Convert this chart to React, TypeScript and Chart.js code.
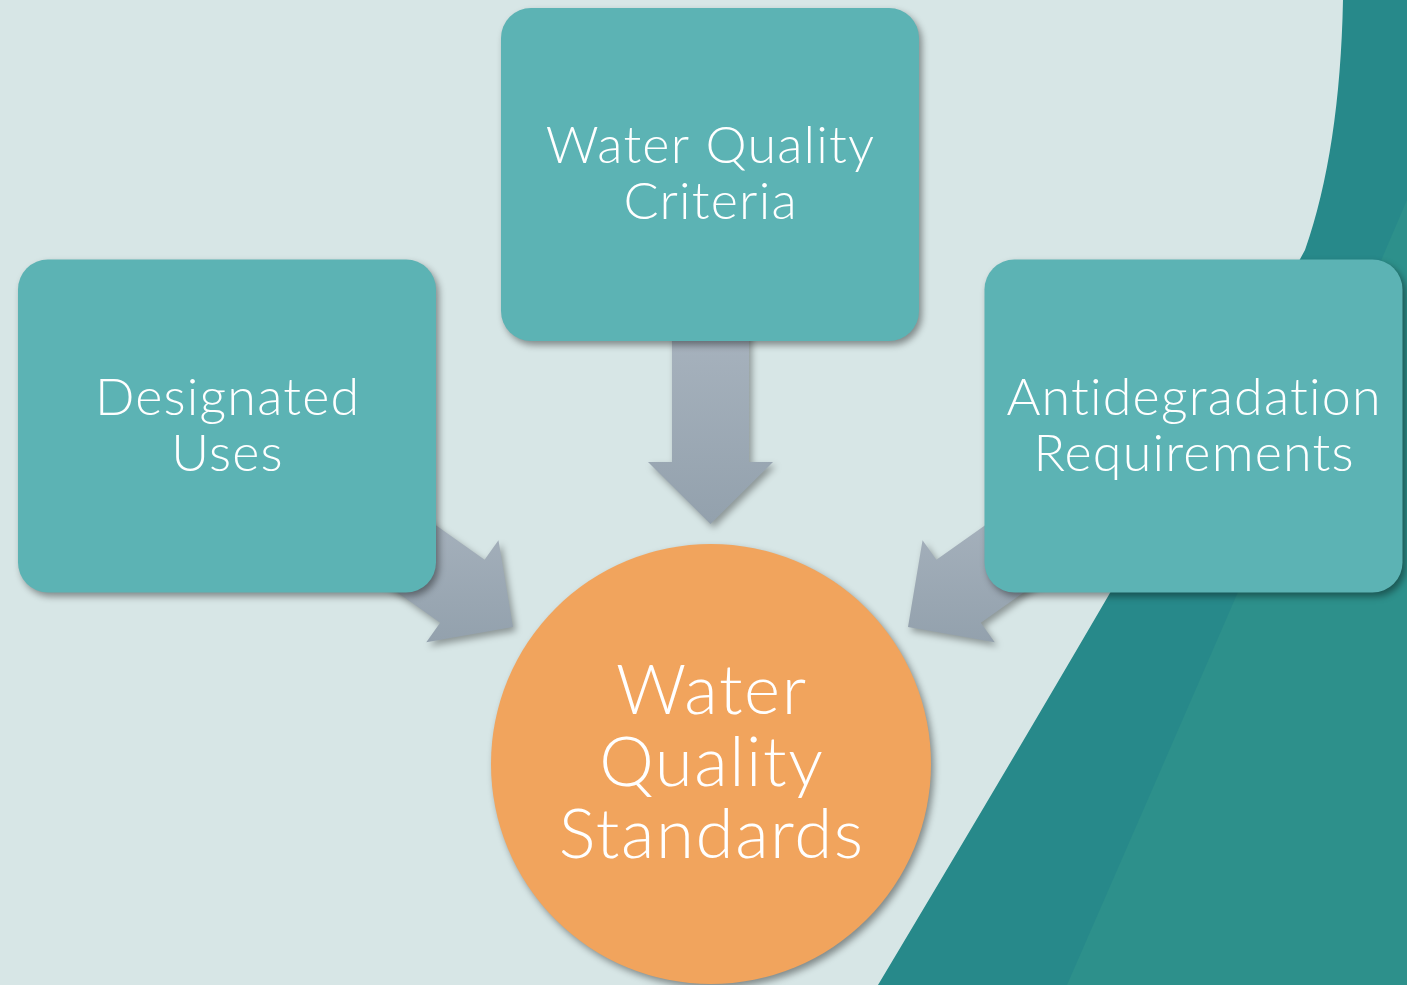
import React, { useEffect, useRef } from "react";
import { Chart, registerables } from "chart.js";

Chart.register(...registerables);

// ---- data ----
const nodeLabels: string[][] = [
  ["Designated", "Uses"],
  ["Water Quality", "Criteria"],
  ["Antidegradation", "Requirements"],
  ["Water", "Quality", "Standards"],
];
const nodeShapes = ["box", "box", "box", "circle"];
const nodeX = [227, 710, 1193.5, 711];
const nodeY = [426, 174.5, 426, 764];

// arrows: from node -> to node (tail point / tip point in diagram units)
const arrowFrom = [0, 1, 2];
const arrowTo = [3, 3, 3];
const arrowTailX = [356, 710.5, 1065];
const arrowTailY = [516, 300, 516];
const arrowTipX = [513, 710.5, 908];
const arrowTipY = [627, 524, 627];

// ---- styles / sizes ----
const VIEW_W = 1407;
const VIEW_H = 985;
const BOX_W = 418;
const BOX_H = 333;
const BOX_R = 30;
const CIRCLE_R = 220;
const SHAFT_W = 77;
const HEAD_W = 125;
const HEAD_L = 62;
const BG = "#d7e6e6";
const TEAL_DARK = "#27898a";
const TEAL_LIGHT = "#2d908b";
const BOX_COLOR = "#5cb3b4";
const CIRCLE_COLOR = "#f1a45d";
const ARROW_TOP = "#aab5c0";
const ARROW_BOTTOM = "#93a1ad";
const FONT_FAMILY = "Lato, 'Open Sans', sans-serif";
const BOX_FONT = 52;
const BOX_LINE = 56;
const BOX_SPACING = 1.2;
const CIRCLE_FONT = 69;
const CIRCLE_LINE = 72;
const CIRCLE_SPACING = 1.6;

const diagramPlugin = {
  id: "diagram",
  beforeDraw(chart: any) {
    const ctx: CanvasRenderingContext2D = chart.ctx;
    const xs = chart.scales.x;
    const ys = chart.scales.y;
    const px = (v: number) => xs.getPixelForValue(v);
    const py = (v: number) => ys.getPixelForValue(v);
    ctx.save();
    ctx.fillStyle = BG;
    ctx.fillRect(0, 0, chart.width, chart.height);
    // teal swoosh on the right
    ctx.fillStyle = TEAL_DARK;
    ctx.beginPath();
    ctx.moveTo(px(1343), py(0));
    ctx.quadraticCurveTo(px(1340), py(150), px(1305), py(250));
    ctx.quadraticCurveTo(px(1180), py(480), px(878), py(985));
    ctx.lineTo(px(1407), py(985));
    ctx.lineTo(px(1407), py(0));
    ctx.closePath();
    ctx.fill();
    ctx.fillStyle = TEAL_LIGHT;
    ctx.beginPath();
    ctx.moveTo(px(1407), py(200));
    ctx.quadraticCurveTo(px(1270), py(520), px(1067), py(985));
    ctx.lineTo(px(1407), py(985));
    ctx.closePath();
    ctx.fill();
    ctx.restore();
  },
  afterDatasetsDraw(chart: any) {
    const ctx: CanvasRenderingContext2D = chart.ctx;
    const xs = chart.scales.x;
    const ys = chart.scales.y;
    const px = (v: number) => xs.getPixelForValue(v);
    const py = (v: number) => ys.getPixelForValue(v);
    const sx = (d: number) => Math.abs(px(d) - px(0));
    const sy = (d: number) => Math.abs(py(d) - py(0));

    const shadow = (a: number) => {
      ctx.shadowColor = `rgba(0,0,0,${a})`;
      ctx.shadowBlur = 7;
      ctx.shadowOffsetX = 3;
      ctx.shadowOffsetY = 4;
    };
    const noShadow = () => {
      ctx.shadowColor = "rgba(0,0,0,0)";
      ctx.shadowBlur = 0;
      ctx.shadowOffsetX = 0;
      ctx.shadowOffsetY = 0;
    };

    // arrows
    arrowFrom.forEach((_, i) => {
      const tx = px(arrowTailX[i]);
      const ty = py(arrowTailY[i]);
      const hx = px(arrowTipX[i]);
      const hy = py(arrowTipY[i]);
      const dx = hx - tx;
      const dy = hy - ty;
      const len = Math.hypot(dx, dy);
      const ux = dx / len;
      const uy = dy / len;
      const nx = -uy;
      const ny = ux;
      const sw = sx(SHAFT_W) / 2;
      const hw = sx(HEAD_W) / 2;
      const hl = sx(HEAD_L);
      const bx = hx - ux * hl;
      const by = hy - uy * hl;
      const pts = [
        [tx + nx * sw, ty + ny * sw],
        [bx + nx * sw, by + ny * sw],
        [bx + nx * hw, by + ny * hw],
        [hx, hy],
        [bx - nx * hw, by - ny * hw],
        [bx - nx * sw, by - ny * sw],
        [tx - nx * sw, ty - ny * sw],
      ];
      const minY = Math.min(...pts.map((p) => p[1]));
      const maxY = Math.max(...pts.map((p) => p[1]));
      const g = ctx.createLinearGradient(0, minY, 0, maxY);
      g.addColorStop(0, ARROW_TOP);
      g.addColorStop(1, ARROW_BOTTOM);
      ctx.save();
      shadow(0.35);
      ctx.fillStyle = g;
      ctx.beginPath();
      pts.forEach((p, k) => (k === 0 ? ctx.moveTo(p[0], p[1]) : ctx.lineTo(p[0], p[1])));
      ctx.closePath();
      ctx.fill();
      ctx.restore();
    });

    // nodes
    nodeLabels.forEach((lines, i) => {
      const cx = px(nodeX[i]);
      const cy = py(nodeY[i]);
      const isBox = nodeShapes[i] === "box";
      ctx.save();
      shadow(0.4);
      if (isBox) {
        const w = sx(BOX_W);
        const h = sy(BOX_H);
        ctx.fillStyle = BOX_COLOR;
        ctx.beginPath();
        (ctx as any).roundRect(cx - w / 2, cy - h / 2, w, h, sx(BOX_R));
        ctx.fill();
      } else {
        ctx.fillStyle = CIRCLE_COLOR;
        ctx.beginPath();
        ctx.arc(cx, cy, sx(CIRCLE_R), 0, Math.PI * 2);
        ctx.fill();
      }
      noShadow();
      const fs = isBox ? BOX_FONT : CIRCLE_FONT;
      const lh = isBox ? BOX_LINE : CIRCLE_LINE;
      const ls = isBox ? BOX_SPACING : CIRCLE_SPACING;
      ctx.fillStyle = "#ffffff";
      ctx.font = `300 ${fs}px ${FONT_FAMILY}`;
      (ctx as any).letterSpacing = `${ls}px`;
      (ctx as any).fontVariantLigatures = "none";
      ctx.textAlign = "center";
      ctx.textBaseline = "middle";
      const y0 = cy - ((lines.length - 1) * lh) / 2;
      lines.forEach((t, k) => ctx.fillText(t, cx + ls / 2, y0 + k * lh));
      ctx.restore();
    });
  },
};

export default function App() {
  const ref = useRef<HTMLCanvasElement | null>(null);
  useEffect(() => {
    document.body.style.margin = "0";
    if (!ref.current) return;
    const chart = new Chart(ref.current, {
      type: "scatter",
      data: {
        datasets: [
          {
            label: "nodes",
            data: nodeX.map((x, i) => ({ x, y: nodeY[i] })),
            pointRadius: 0,
            pointHoverRadius: 0,
          },
        ],
      },
      options: {
        animation: false,
        responsive: false,
        devicePixelRatio: 1,
        layout: { padding: 0 },
        events: [],
        scales: {
          x: { type: "linear", min: 0, max: VIEW_W, display: false },
          y: { type: "linear", min: 0, max: VIEW_H, reverse: true, display: false },
        },
        plugins: {
          legend: { display: false },
          tooltip: { enabled: false },
          title: { display: false },
        },
      },
      plugins: [diagramPlugin],
    });
    return () => chart.destroy();
  }, []);
  return (
    <div style={{ position: "fixed", left: 0, top: 0, width: VIEW_W, height: VIEW_H }}>
      <canvas ref={ref} width={VIEW_W} height={VIEW_H} style={{ display: "block" }} />
    </div>
  );
}
